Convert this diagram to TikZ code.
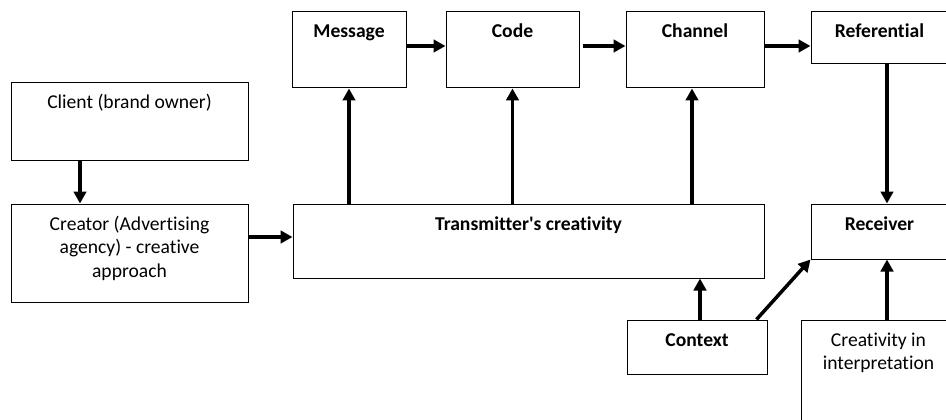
\documentclass[tikz,border=0pt]{standalone}
\usepackage{fontspec}
\setmainfont{Carlito}[Ligatures={NoCommon}]
\usetikzlibrary{arrows.meta}
\begin{document}
\begin{tikzpicture}[x=1pt,y=-1pt,
  box/.style={draw=black, line width=1pt, rectangle, inner sep=0pt},
  lab/.style={anchor=base, yshift=-26.5pt, align=flush center, inner sep=0pt,
    font=\fontsize{19.6}{23.5}\selectfont},
  hd/.style={lab, font=\fontsize{19.6}{23.5}\selectfont\bfseries},
  arr/.style={line width=3.5pt, -{Triangle[length=12pt,width=12.5pt]}}]
\useasboundingbox (0,0) rectangle (946,420);
\clip (0,0) rectangle (946,420);

% sender side
\node[box, minimum width=237pt, minimum height=77pt,
  label={[lab]north:Client (brand owner)}] (client) at (129.5,121.5) {};
\node[box, minimum width=237pt, minimum height=98pt,
  label={[lab, text width=220pt]north:Creator (Advertising\\agency) - creative\\approach}] (creator) at (129.5,253) {};
\node[box, minimum width=471pt, minimum height=74pt,
  label={[hd]north:Transmitter\textquotesingle s creativity}] (trans) at (528.5,241) {};

% communication chain
\node[box, minimum width=114pt, minimum height=76pt,
  label={[hd]north:Message}] (message) at (349,50) {};
\node[box, minimum width=133pt, minimum height=76pt,
  label={[hd]north:Code}] (code) at (512.5,50) {};
\node[box, minimum width=138pt, minimum height=76pt,
  label={[hd]north:Channel}] (channel) at (695,50) {};
\node[box, minimum width=137pt, minimum height=52pt,
  label={[hd]north:Referential}] (referential) at (879.5,38) {};

% receiver side
\node[box, minimum width=137pt, minimum height=55pt,
  label={[hd]north:Receiver}] (receiver) at (879.5,231.5) {};
\node[box, minimum width=140pt, minimum height=54pt,
  label={[hd]north:Context}] (context) at (697,347) {};
\node[box, minimum width=155pt, minimum height=110pt,
  label={[lab, text width=150pt]north:Creativity in\\interpretation}] (interp) at (878.5,375) {};

% connectors
\draw[arr] ([xshift=-49.5pt]client.south) -- ([xshift=-49.5pt]creator.north);
\draw[arr] ([yshift=16pt]creator.east) -- ([yshift=16pt]creator.east -| trans.west);
\draw[arr] (message.south |- trans.north) -- (message.south);
\draw[arr] (code.south |- trans.north) -- (code.south);
\draw[arr] ([xshift=-3pt]channel.south |- trans.north) -- ([xshift=-3pt]channel.south);
\draw[arr] ([yshift=4pt]message.east) -- ([yshift=4pt]code.west);
\draw[arr, shorten <=3pt] ([yshift=4pt]code.east) -- ([yshift=4pt]channel.west);
\draw[arr] ([yshift=4pt]channel.east) -- ([yshift=4pt]channel.east -| referential.west);
\draw[arr] ([xshift=7.5pt]referential.south) -- ([xshift=7.5pt]referential.south |- receiver.north);
\draw[arr] ([xshift=3pt]context.north) -- ([xshift=3pt]context.north |- trans.south);
\draw[arr] ([xshift=-11pt]context.north east) -- (receiver.south west);
\draw[arr] ([xshift=8.5pt]interp.north) -- ([xshift=8.5pt]interp.north |- receiver.south);
\end{tikzpicture}
\end{document}
